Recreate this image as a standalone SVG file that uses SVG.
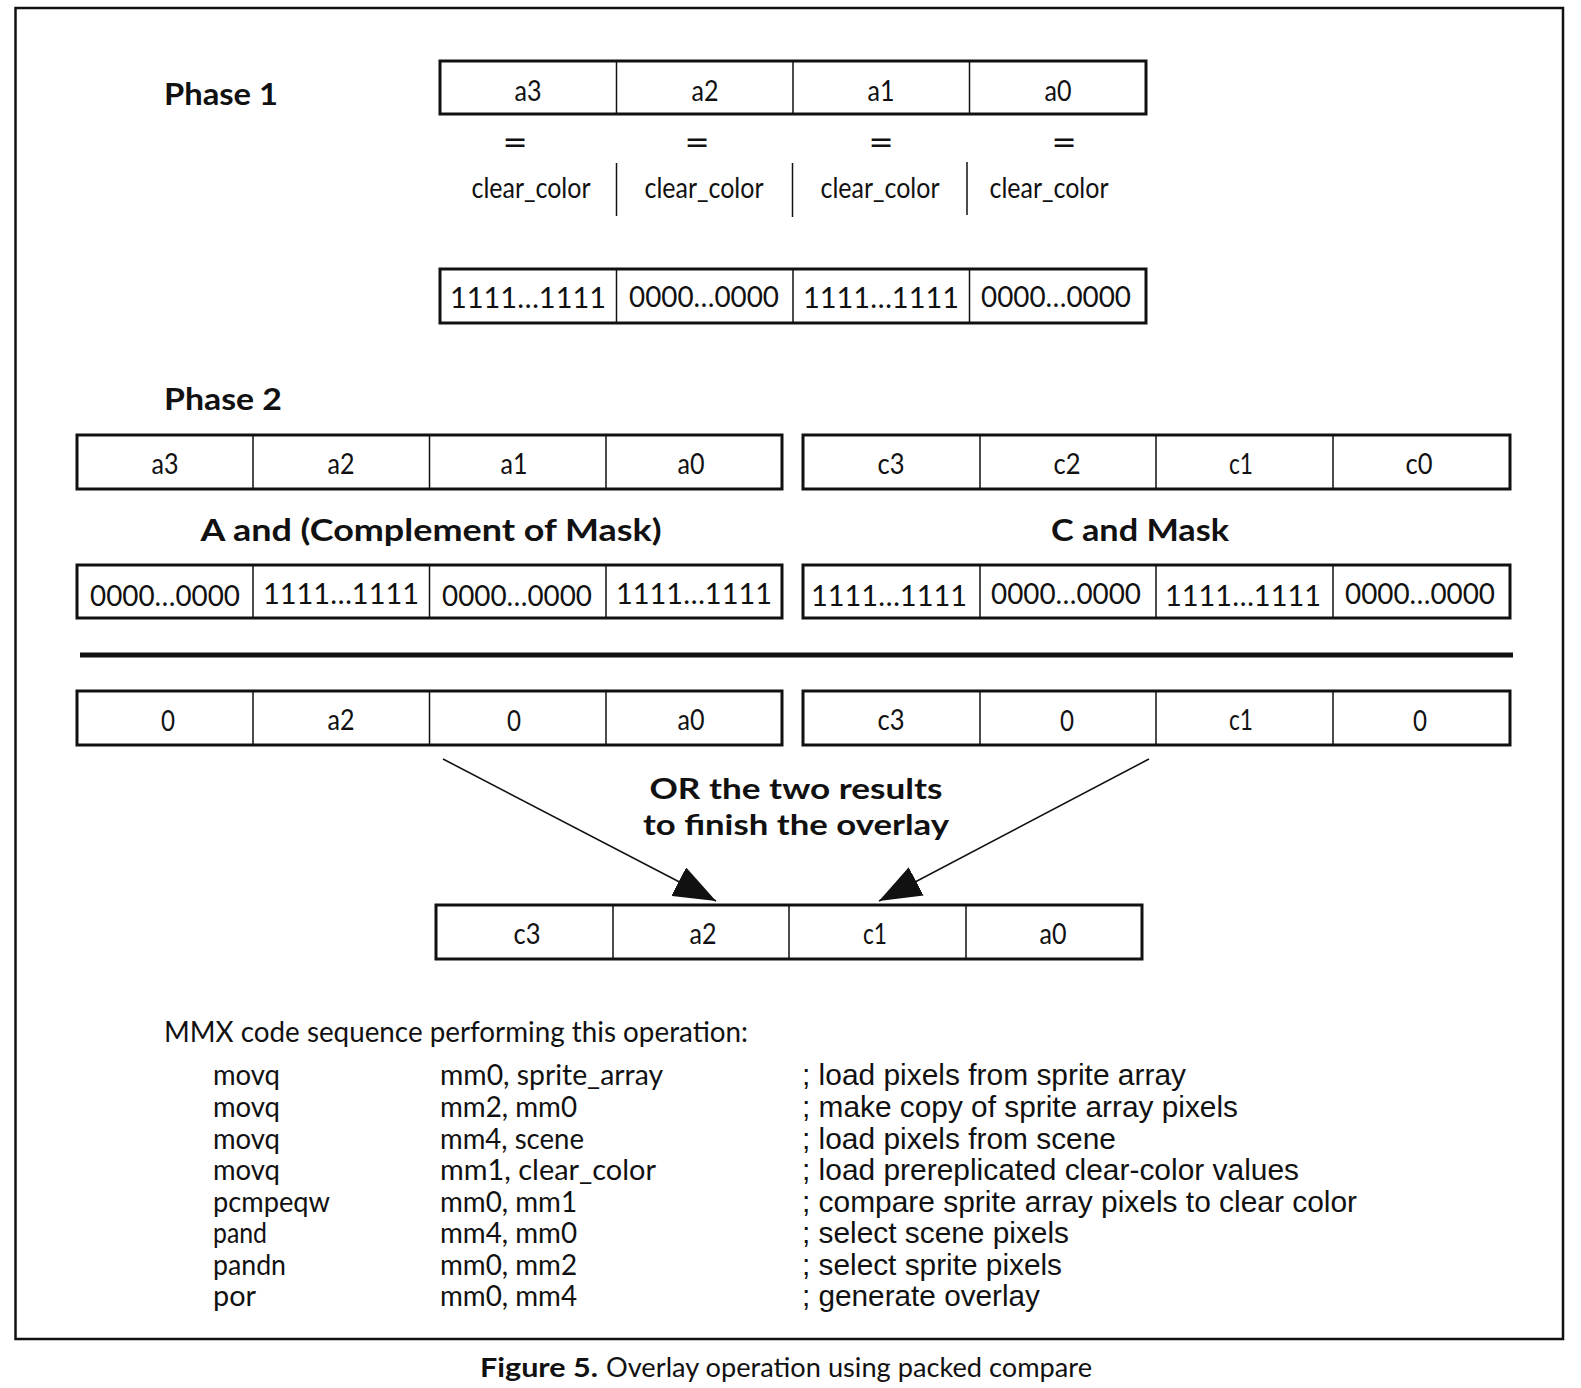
<svg xmlns="http://www.w3.org/2000/svg" width="1581" height="1388" viewBox="0 0 1581 1388">
<style>
.frame{fill:none;stroke:#111;stroke-width:2.5}
.box{fill:#fff;stroke:#111;stroke-width:3}
.div{stroke:#111;stroke-width:1.5}
.lbl{font-family:Lato,"Open Sans","DejaVu Sans",sans-serif;font-size:29px;fill:#111;text-anchor:middle}
.eq{font-family:"DejaVu Sans",sans-serif;font-size:30px;fill:#111;text-anchor:middle}
.bin{font-family:Lato,"Open Sans","DejaVu Sans",sans-serif;font-size:29px;fill:#111;text-anchor:middle}
.hd{font-family:Lato,"Open Sans","DejaVu Sans",sans-serif;font-size:31px;font-weight:bold;fill:#111}
.hdc{font-family:Lato,"Open Sans","DejaVu Sans",sans-serif;font-size:31px;font-weight:bold;fill:#111;text-anchor:middle}
.orl{font-family:Lato,"Open Sans","DejaVu Sans",sans-serif;font-size:29px;font-weight:bold;fill:#111;text-anchor:middle}
.code{font-family:Lato,"Open Sans","DejaVu Sans",sans-serif;font-size:28px;fill:#111}
.cmt{font-family:"Liberation Sans",Arial,sans-serif;font-size:29px;fill:#111}
.cap{font-family:Lato,"Open Sans","DejaVu Sans",sans-serif;font-size:27px;fill:#111}
.conn{stroke:#111;stroke-width:1.6;fill:none}
</style>
<defs>
<marker id="ah" viewBox="0 0 42 32" refX="42" refY="16" markerWidth="42" markerHeight="32" markerUnits="userSpaceOnUse" orient="auto">
<path d="M0,0 L42,16 L0,32 Z" fill="#111"/>
</marker>
</defs>
<rect x="0" y="0" width="1581" height="1388" fill="#fff"/>
<rect class="frame" x="15.5" y="8" width="1547.5" height="1331"/>

<g id="phase1-title"><text class="hd" x="164" y="105" textLength="114" lengthAdjust="spacingAndGlyphs">Phase 1</text></g>

<g id="phase1-a">
<rect class="box" x="440" y="61" width="706" height="53"/>
<line class="div" x1="616.5" y1="61" x2="616.5" y2="114"/>
<line class="div" x1="793" y1="61" x2="793" y2="114"/>
<line class="div" x1="969.5" y1="61" x2="969.5" y2="114"/>
<text class="lbl" x="528" y="101" textLength="27" lengthAdjust="spacingAndGlyphs">a3</text>
<text class="lbl" x="705" y="101" textLength="27" lengthAdjust="spacingAndGlyphs">a2</text>
<text class="lbl" x="881" y="101" textLength="27" lengthAdjust="spacingAndGlyphs">a1</text>
<text class="lbl" x="1058" y="101" textLength="27" lengthAdjust="spacingAndGlyphs">a0</text>
</g>

<g id="phase1-compare">
<text class="eq" x="515" y="152">=</text>
<text class="eq" x="697" y="152">=</text>
<text class="eq" x="881" y="152">=</text>
<text class="eq" x="1064" y="152">=</text>
<text class="lbl" x="531" y="198" textLength="119" lengthAdjust="spacingAndGlyphs">clear_color</text>
<text class="lbl" x="704" y="198" textLength="119" lengthAdjust="spacingAndGlyphs">clear_color</text>
<text class="lbl" x="880" y="198" textLength="119" lengthAdjust="spacingAndGlyphs">clear_color</text>
<text class="lbl" x="1049" y="198" textLength="119" lengthAdjust="spacingAndGlyphs">clear_color</text>
<line class="div" x1="616.5" y1="163" x2="616.5" y2="216"/>
<line class="div" x1="792.5" y1="163" x2="792.5" y2="217"/>
<line class="div" x1="967" y1="162" x2="967" y2="215"/>
</g>

<g id="phase1-mask">
<rect class="box" x="440" y="269" width="706" height="54"/>
<line class="div" x1="616.5" y1="269" x2="616.5" y2="323"/>
<line class="div" x1="793" y1="269" x2="793" y2="323"/>
<line class="div" x1="969.5" y1="269" x2="969.5" y2="323"/>
<text class="bin" x="528" y="308" textLength="156" lengthAdjust="spacingAndGlyphs">1111…1111</text>
<text class="bin" x="704" y="307" textLength="150" lengthAdjust="spacingAndGlyphs">0000…0000</text>
<text class="bin" x="881" y="308" textLength="156" lengthAdjust="spacingAndGlyphs">1111…1111</text>
<text class="bin" x="1056" y="307" textLength="150" lengthAdjust="spacingAndGlyphs">0000…0000</text>
</g>

<g id="phase2-title"><text class="hd" x="164" y="410" textLength="118" lengthAdjust="spacingAndGlyphs">Phase 2</text></g>

<g id="row-a">
<rect class="box" x="77" y="435" width="705" height="54"/>
<line class="div" x1="253" y1="435" x2="253" y2="489"/>
<line class="div" x1="429.5" y1="435" x2="429.5" y2="489"/>
<line class="div" x1="606" y1="435" x2="606" y2="489"/>
<text class="lbl" x="165" y="474" textLength="27" lengthAdjust="spacingAndGlyphs">a3</text>
<text class="lbl" x="341" y="474" textLength="27" lengthAdjust="spacingAndGlyphs">a2</text>
<text class="lbl" x="514" y="474" textLength="27" lengthAdjust="spacingAndGlyphs">a1</text>
<text class="lbl" x="691" y="474" textLength="27" lengthAdjust="spacingAndGlyphs">a0</text>
</g>

<g id="row-c">
<rect class="box" x="803" y="435" width="707" height="54"/>
<line class="div" x1="980" y1="435" x2="980" y2="489"/>
<line class="div" x1="1156" y1="435" x2="1156" y2="489"/>
<line class="div" x1="1333" y1="435" x2="1333" y2="489"/>
<text class="lbl" x="891" y="474" textLength="27" lengthAdjust="spacingAndGlyphs">c3</text>
<text class="lbl" x="1067" y="474" textLength="27" lengthAdjust="spacingAndGlyphs">c2</text>
<text class="lbl" x="1241" y="474" textLength="24" lengthAdjust="spacingAndGlyphs">c1</text>
<text class="lbl" x="1419" y="474" textLength="27" lengthAdjust="spacingAndGlyphs">c0</text>
</g>

<g id="label-a-and"><text class="hdc" x="431" y="541" textLength="461" lengthAdjust="spacingAndGlyphs">A and (Complement of Mask)</text></g>
<g id="label-c-and"><text class="hdc" x="1140" y="541" textLength="178" lengthAdjust="spacingAndGlyphs">C and Mask</text></g>

<g id="mask-a">
<rect class="box" x="77" y="565" width="705" height="53"/>
<line class="div" x1="253" y1="565" x2="253" y2="618"/>
<line class="div" x1="429.5" y1="565" x2="429.5" y2="618"/>
<line class="div" x1="606" y1="565" x2="606" y2="618"/>
<text class="bin" x="165" y="606" textLength="150" lengthAdjust="spacingAndGlyphs">0000…0000</text>
<text class="bin" x="341" y="604" textLength="156" lengthAdjust="spacingAndGlyphs">1111…1111</text>
<text class="bin" x="517" y="606" textLength="150" lengthAdjust="spacingAndGlyphs">0000…0000</text>
<text class="bin" x="694" y="604" textLength="156" lengthAdjust="spacingAndGlyphs">1111…1111</text>
</g>

<g id="mask-c">
<rect class="box" x="803" y="565" width="707" height="53"/>
<line class="div" x1="980" y1="565" x2="980" y2="618"/>
<line class="div" x1="1156" y1="565" x2="1156" y2="618"/>
<line class="div" x1="1333" y1="565" x2="1333" y2="618"/>
<text class="bin" x="889" y="606" textLength="156" lengthAdjust="spacingAndGlyphs">1111…1111</text>
<text class="bin" x="1066" y="604" textLength="150" lengthAdjust="spacingAndGlyphs">0000…0000</text>
<text class="bin" x="1243" y="606" textLength="156" lengthAdjust="spacingAndGlyphs">1111…1111</text>
<text class="bin" x="1420" y="604" textLength="150" lengthAdjust="spacingAndGlyphs">0000…0000</text>
</g>

<g id="rule"><line x1="80" y1="655" x2="1513" y2="655" stroke="#111" stroke-width="5"/></g>

<g id="result-a">
<rect class="box" x="77" y="691" width="705" height="54"/>
<line class="div" x1="253" y1="691" x2="253" y2="745"/>
<line class="div" x1="429.5" y1="691" x2="429.5" y2="745"/>
<line class="div" x1="606" y1="691" x2="606" y2="745"/>
<text class="lbl" x="168" y="731" textLength="14" lengthAdjust="spacingAndGlyphs">0</text>
<text class="lbl" x="341" y="730" textLength="27" lengthAdjust="spacingAndGlyphs">a2</text>
<text class="lbl" x="514" y="731" textLength="14" lengthAdjust="spacingAndGlyphs">0</text>
<text class="lbl" x="691" y="730" textLength="27" lengthAdjust="spacingAndGlyphs">a0</text>
</g>

<g id="result-c">
<rect class="box" x="803" y="691" width="707" height="54"/>
<line class="div" x1="980" y1="691" x2="980" y2="745"/>
<line class="div" x1="1156" y1="691" x2="1156" y2="745"/>
<line class="div" x1="1333" y1="691" x2="1333" y2="745"/>
<text class="lbl" x="891" y="730" textLength="27" lengthAdjust="spacingAndGlyphs">c3</text>
<text class="lbl" x="1067" y="731" textLength="14" lengthAdjust="spacingAndGlyphs">0</text>
<text class="lbl" x="1241" y="730" textLength="24" lengthAdjust="spacingAndGlyphs">c1</text>
<text class="lbl" x="1420" y="731" textLength="14" lengthAdjust="spacingAndGlyphs">0</text>
</g>

<g id="or-label">
<text class="orl" x="796" y="799" textLength="293" lengthAdjust="spacingAndGlyphs">OR the two results</text>
<text class="orl" x="796" y="835" textLength="306" lengthAdjust="spacingAndGlyphs">to finish the overlay</text>
</g>

<g id="connectors">
<line class="conn" x1="443" y1="759" x2="716" y2="901" marker-end="url(#ah)"/>
<line class="conn" x1="1149" y1="759" x2="879" y2="901" marker-end="url(#ah)"/>
</g>

<g id="final">
<rect class="box" x="436" y="905" width="706" height="54"/>
<line class="div" x1="613" y1="905" x2="613" y2="959"/>
<line class="div" x1="789" y1="905" x2="789" y2="959"/>
<line class="div" x1="966" y1="905" x2="966" y2="959"/>
<text class="lbl" x="527" y="944" textLength="27" lengthAdjust="spacingAndGlyphs">c3</text>
<text class="lbl" x="703" y="944" textLength="27" lengthAdjust="spacingAndGlyphs">a2</text>
<text class="lbl" x="875" y="944" textLength="24" lengthAdjust="spacingAndGlyphs">c1</text>
<text class="lbl" x="1053" y="944" textLength="27" lengthAdjust="spacingAndGlyphs">a0</text>
</g>

<g id="code">
<text class="code" x="164" y="1042" textLength="584" lengthAdjust="spacingAndGlyphs">MMX code sequence performing this operation:</text>
<text class="code" x="213" y="1085" textLength="67" lengthAdjust="spacingAndGlyphs">movq</text>
<text class="code" x="213" y="1117" textLength="67" lengthAdjust="spacingAndGlyphs">movq</text>
<text class="code" x="213" y="1149" textLength="67" lengthAdjust="spacingAndGlyphs">movq</text>
<text class="code" x="213" y="1180" textLength="67" lengthAdjust="spacingAndGlyphs">movq</text>
<text class="code" x="213" y="1212" textLength="117" lengthAdjust="spacingAndGlyphs">pcmpeqw</text>
<text class="code" x="213" y="1243" textLength="54" lengthAdjust="spacingAndGlyphs">pand</text>
<text class="code" x="213" y="1275" textLength="73" lengthAdjust="spacingAndGlyphs">pandn</text>
<text class="code" x="213" y="1306" textLength="43" lengthAdjust="spacingAndGlyphs">por</text>
<text class="code" x="440" y="1085" textLength="223" lengthAdjust="spacingAndGlyphs">mm0, sprite_array</text>
<text class="code" x="440" y="1117" textLength="137" lengthAdjust="spacingAndGlyphs">mm2, mm0</text>
<text class="code" x="440" y="1149" textLength="144" lengthAdjust="spacingAndGlyphs">mm4, scene</text>
<text class="code" x="440" y="1180" textLength="216" lengthAdjust="spacingAndGlyphs">mm1, clear_color</text>
<text class="code" x="440" y="1212" textLength="137" lengthAdjust="spacingAndGlyphs">mm0, mm1</text>
<text class="code" x="440" y="1243" textLength="137" lengthAdjust="spacingAndGlyphs">mm4, mm0</text>
<text class="code" x="440" y="1275" textLength="137" lengthAdjust="spacingAndGlyphs">mm0, mm2</text>
<text class="code" x="440" y="1306" textLength="137" lengthAdjust="spacingAndGlyphs">mm0, mm4</text>
<text class="cmt" x="802" y="1085" textLength="384" lengthAdjust="spacingAndGlyphs">; load pixels from sprite array</text>
<text class="cmt" x="802" y="1117" textLength="436" lengthAdjust="spacingAndGlyphs">; make copy of sprite array pixels</text>
<text class="cmt" x="802" y="1149" textLength="314" lengthAdjust="spacingAndGlyphs">; load pixels from scene</text>
<text class="cmt" x="802" y="1180" textLength="497" lengthAdjust="spacingAndGlyphs">; load prereplicated clear-color values</text>
<text class="cmt" x="802" y="1212" textLength="555" lengthAdjust="spacingAndGlyphs">; compare sprite array pixels to clear color</text>
<text class="cmt" x="802" y="1243" textLength="267" lengthAdjust="spacingAndGlyphs">; select scene pixels</text>
<text class="cmt" x="802" y="1275" textLength="260" lengthAdjust="spacingAndGlyphs">; select sprite pixels</text>
<text class="cmt" x="802" y="1306" textLength="238" lengthAdjust="spacingAndGlyphs">; generate overlay</text>
</g>

<g id="caption">
<text class="cap" x="480" y="1377"><tspan font-weight="bold" textLength="118" lengthAdjust="spacingAndGlyphs">Figure 5.</tspan></text>
<text class="cap" x="606" y="1377" textLength="486" lengthAdjust="spacingAndGlyphs">Overlay operation using packed compare</text>
</g>
</svg>
